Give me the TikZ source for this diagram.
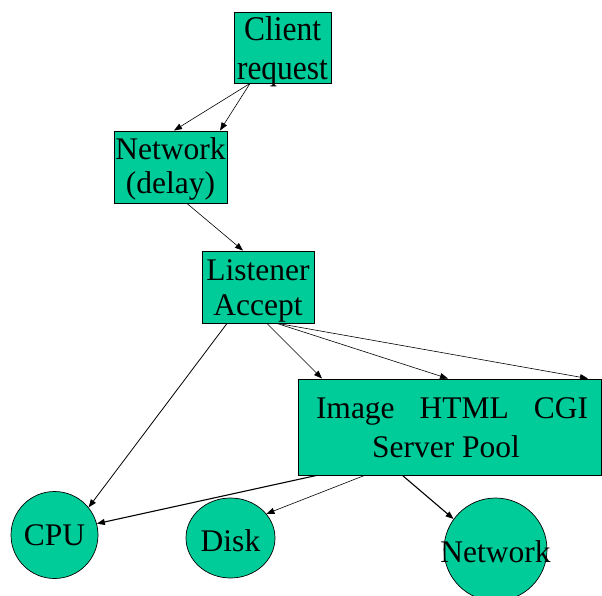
\documentclass[tikz,border=0pt]{standalone}
\usepackage{fontspec}
\setmainfont{Liberation Serif}
\usetikzlibrary{arrows.meta,shapes.geometric,calc}
\definecolor{boxfill}{HTML}{00CC99}
\begin{document}
\begin{tikzpicture}[x=1pt,y=-1pt,
  txt/.style={font=\fontsize{31.5}{36}\selectfont, inner sep=0pt},
  box/.style={draw=black,line width=0.9pt,fill=boxfill,inner sep=0pt},
  res/.style={draw=black,line width=0.7pt,fill=boxfill,inner sep=0pt},
  arr/.style={-{Triangle[length=8pt,width=6pt]},line width=0.6pt},
  arrb/.style={arr,line width=1.1pt}]
\useasboundingbox (0,0) rectangle (602,596);
% boxes
\node[box, minimum width=97pt, minimum height=71pt,
  label={[txt,yshift=-5.2pt]center:{\scalebox{1}[1.1]{\fontsize{31.5}{35.45}\selectfont\begin{tabular}{@{}c@{}}Client\\request\end{tabular}}}}] (client) at (282.5,47.5) {};
\node[box, minimum width=113pt, minimum height=72pt,
  label={[txt,yshift=-2.7pt]center:{\fontsize{31.5}{34}\selectfont\begin{tabular}{@{}c@{}}Network\\(delay)\end{tabular}}}] (netbox) at (170.5,167) {};
\node[box, minimum width=112pt, minimum height=72pt,
  label={[txt,yshift=-3.5pt]center:{\fontsize{31.5}{35}\selectfont\begin{tabular}{@{}c@{}}Listener\\Accept\end{tabular}}}] (listener) at (258,287) {};
\node[box, minimum width=303pt, minimum height=96pt,
  label={[txt,yshift=-2.7pt,xshift=2.5pt]center:{\fontsize{31.5}{39}\selectfont\begin{tabular}{@{}c@{}}\makebox[272pt]{Image\hfill HTML\hfill CGI}\\Server Pool\hspace*{12pt}\end{tabular}}}] (server) at (449.5,427) {};
% resources
\node[res, circle, minimum size=87pt, label={[txt,yshift=-0.5pt]center:CPU}] (cpu) at (54.5,535) {};
\node[res, ellipse, minimum width=89pt, minimum height=80pt, label={[txt,yshift=-2.4pt]center:Disk}] (disk) at (230.5,538) {};
\node[res, ellipse, minimum width=103pt, minimum height=103pt, label={[txt,yshift=-2.4pt]center:Network}] (netc) at (495.5,549.5) {};
% connectors
\draw[arr] ([xshift=-32.5pt]client.south) -- ([xshift=3.5pt]netbox.north);
\draw[arr] ([xshift=-32.5pt]client.south) -- ([xshift=49.5pt]netbox.north);
\draw[arr] ([xshift=16.5pt]netbox.south) -- ([xshift=-15pt]listener.north);
\draw[arr,line width=0.8pt] ([xshift=-31pt]listener.south) -- (cpu.39);
\draw[arr] ([xshift=9pt]listener.south) -- ([xshift=-127.5pt]server.north);
\draw[arr] ([xshift=19pt]listener.south) -- ([xshift=-1.5pt]server.north);
\draw[arr] ([xshift=20pt]listener.south) -- ([xshift=138.5pt]server.north);
\draw[arrb] ([xshift=-133pt]server.south) -- (cpu.15);
\draw[arr] ([xshift=-85pt]server.south) -- (disk.34);
\draw[arrb] ([xshift=-47pt]server.south) -- (netc.144);
\end{tikzpicture}
\end{document}
